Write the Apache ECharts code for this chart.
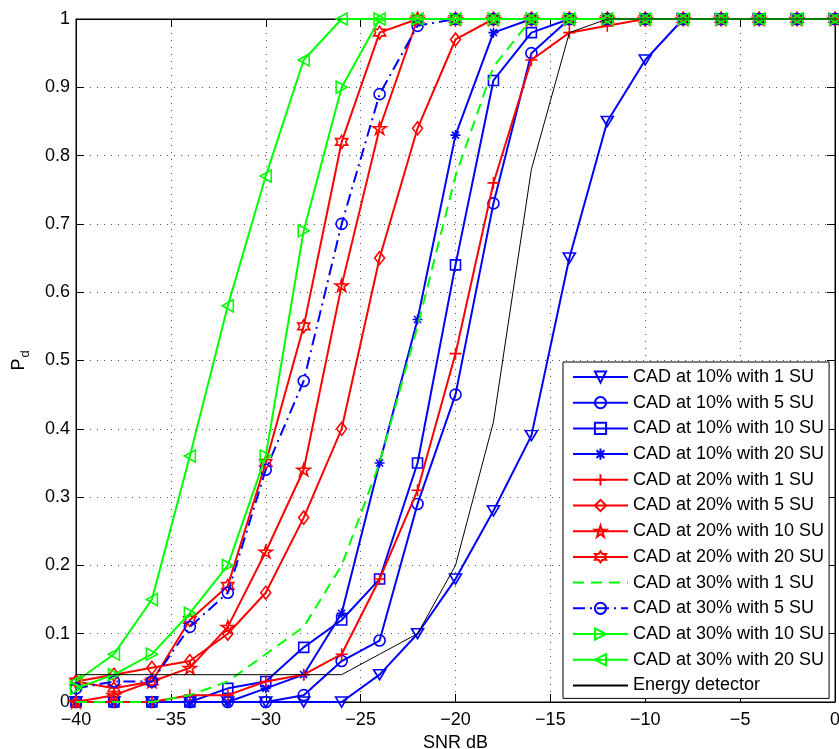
<!DOCTYPE html>
<html>
<head>
<meta charset="utf-8">
<script src="https://cdn.jsdelivr.net/npm/echarts@6/dist/echarts.min.js"></script>
<style>html,body{margin:0;padding:0;background:#fff;}#c{width:839px;height:749px;}</style>
</head>
<body>
<div id="c"></div>
<script>
const snr = [-40,-38,-36,-34,-32,-30,-28,-26,-24,-22,-20,-18,-16,-14,-12,-10,-8,-6,-4,-2,0];

const cad10_1  = [0,0,0,0,0,0,0,0,0.04,0.10,0.18,0.28,0.39,0.65,0.85,0.94,1,1,1,1,1];
const cad10_5  = [0,0,0,0,0,0,0.01,0.06,0.09,0.29,0.45,0.73,0.95,1,1,1,1,1,1,1,1];
const cad10_10 = [0,0,0,0,0.02,0.03,0.08,0.12,0.18,0.35,0.64,0.91,0.98,1,1,1,1,1,1,1,1];
const cad10_20 = [0,0,0,0,0,0.02,0.04,0.13,0.35,0.56,0.83,0.98,1,1,1,1,1,1,1,1,1];
const cad20_1  = [0,0,0,0.01,0.01,0.03,0.04,0.07,0.18,0.31,0.51,0.76,0.94,0.98,0.99,1,1,1,1,1,1];
const cad20_5  = [0.03,0.04,0.05,0.06,0.10,0.16,0.27,0.40,0.65,0.84,0.97,1,1,1,1,1,1,1,1,1,1];
const cad20_10 = [0,0.01,0.03,0.05,0.11,0.22,0.34,0.61,0.84,1,1,1,1,1,1,1,1,1,1,1,1];
const cad20_20 = [0.03,0.02,0.03,0.12,0.17,0.35,0.55,0.82,0.98,1,1,1,1,1,1,1,1,1,1,1,1];
const cad30_1  = [0,0,0,0.01,0.03,0.07,0.11,0.20,0.35,0.55,0.77,0.93,1,1,1,1,1,1,1,1,1];
const cad30_5  = [0.02,0.03,0.03,0.11,0.16,0.34,0.47,0.70,0.89,0.99,1,1,1,1,1,1,1,1,1,1,1];
const cad30_10 = [0.02,0.04,0.07,0.13,0.20,0.36,0.69,0.90,1,1,1,1,1,1,1,1,1,1,1,1,1];
const cad30_20 = [0.03,0.07,0.15,0.36,0.58,0.77,0.94,1,1,1,1,1,1,1,1,1,1,1,1,1,1];
const energy   = [0.04,0.04,0.04,0.04,0.04,0.04,0.04,0.04,0.07,0.10,0.20,0.41,0.78,0.98,1,1,1,1,1,1,1];

const seriesNames = [
  'CAD at 10% with 1 SU','CAD at 10% with 5 SU','CAD at 10% with 10 SU','CAD at 10% with 20 SU',
  'CAD at 20% with 1 SU','CAD at 20% with 5 SU','CAD at 20% with 10 SU','CAD at 20% with 20 SU',
  'CAD at 30% with 1 SU','CAD at 30% with 5 SU','CAD at 30% with 10 SU','CAD at 30% with 20 SU',
  'Energy detector'
];
const seriesData = [cad10_1,cad10_5,cad10_10,cad10_20,cad20_1,cad20_5,cad20_10,cad20_20,cad30_1,cad30_5,cad30_10,cad30_20,energy];

const xTicks = {min:-40, max:0, interval:5};
const yTicks = {min:0, max:1, interval:0.1};

const BLUE='#0000ff', RED='#ff0000', GREEN='#00ff00', BLACK='#000000';
const SYM = {
  down: 'path://M0,0L10,0L5,9Z',
  right: 'path://M0,0L9,5L0,10Z',
  left: 'path://M9,0L0,5L9,10Z',
  plus: 'path://M5,0L5,10M0,5L10,5',
  aster: 'path://M5,0L5,10M0,5L10,5M1.5,1.5L8.5,8.5M8.5,1.5L1.5,8.5',
  penta: 'path://M50,0L61.2,34.5L97.6,34.5L68.2,55.9L79.4,90.5L50,69.1L20.6,90.5L31.8,55.9L2.4,34.5L38.8,34.5Z',
  hexa: 'path://M50,0L64.43,25L93.3,25L78.87,50L93.3,75L64.43,75L50,100L35.57,75L6.7,75L21.13,50L6.7,25L35.57,25Z'
};
const styles = [
  {c:BLUE, s:SYM.down, z:[12,10]},
  {c:BLUE, s:'circle', z:11},
  {c:BLUE, s:'rect', z:10},
  {c:BLUE, s:SYM.aster, z:10},
  {c:RED, s:SYM.plus, z:12},
  {c:RED, s:'diamond', z:[10,13]},
  {c:RED, s:SYM.penta, z:[13,12]},
  {c:RED, s:SYM.hexa, z:[12,13]},
  {c:GREEN, s:'none', z:0, dash:[11,7]},
  {c:BLUE, s:'circle', z:11, dash:[12,5,2,5]},
  {c:GREEN, s:SYM.right, z:[11,12]},
  {c:GREEN, s:SYM.left, z:[11,12]},
  {c:BLACK, s:'none', z:0, w:1}
];

const series = seriesNames.map((name,i)=>{
  const st = styles[i];
  return {
    name: name,
    type: 'line',
    xAxisIndex: 0, yAxisIndex: 0,
    data: snr.map((x,k)=>[x, seriesData[i][k]]),
    symbol: st.s,
    symbolSize: st.z,
    showSymbol: st.s !== 'none',
    clip: false,
    animation: false,
    z: 2 + i,
    lineStyle: {color: st.c, width: st.w || 2, type: st.dash || 'solid'},
    itemStyle: {color: 'rgba(0,0,0,0)', borderColor: st.c, borderWidth: 1.6},
    emphasis: {disabled: true}
  };
});

const legendData = seriesNames.map((name,i)=> styles[i].s === 'none'
  ? {name: name, itemStyle: {color:'rgba(0,0,0,0)', borderColor:'rgba(0,0,0,0)', borderWidth:0, opacity:0}}
  : {name: name});

const gridLine = {show:true, lineStyle:{color:'#555', width:1, type:[1,6]}};
const fnt = 'Liberation Sans, Arial, sans-serif';

const option = {
  backgroundColor: '#fff',
  animation: false,
  grid: {left:76, right:4, top:19, bottom:47, containLabel:false, outerBoundsMode:'none',
         show:true, borderColor:'#000', borderWidth:1, backgroundColor:'#fff'},
  legend: {
    orient: 'vertical', left: 563, top: 362,
    backgroundColor: '#fff', borderColor: '#000', borderWidth: 1,
    padding: [5,5,3,9],
    itemWidth: 55, itemHeight: 14, itemGap: 5.7,
    textStyle: {fontFamily: fnt, fontSize: 18, color: '#000', lineHeight: 20},
    data: legendData,
    selectedMode: false
  },
  xAxis: [{
    type:'value', min:xTicks.min, max:xTicks.max, interval:xTicks.interval,
    position:'bottom',
    name:'SNR dB', nameLocation:'middle', nameGap:29,
    nameTextStyle:{fontFamily:fnt, fontSize:18, color:'#000'},
    axisLine:{show:true, onZero:false, lineStyle:{color:'#000', width:1}},
    axisTick:{show:true, inside:true, length:8, lineStyle:{color:'#000'}},
    axisLabel:{fontFamily:fnt, fontSize:18, color:'#000', margin:9,
      formatter: v => String(v).replace('-', '\u2212')},
    splitLine: gridLine
  },{
    type:'value', min:xTicks.min, max:xTicks.max, interval:xTicks.interval,
    position:'top',
    axisLine:{show:true, onZero:false, lineStyle:{color:'#000', width:1}},
    axisTick:{show:true, inside:true, length:8, lineStyle:{color:'#000'}},
    axisLabel:{show:false}, splitLine:{show:false}
  }],
  yAxis: [{
    type:'value', min:yTicks.min, max:yTicks.max, interval:yTicks.interval,
    position:'left',
    name:'{p|P}{d|d}', nameLocation:'middle', nameGap:44, nameRotate:90,
    nameTextStyle:{fontFamily:fnt, color:'#000',
      rich:{p:{fontFamily:fnt, fontSize:18, color:'#000'}, d:{fontFamily:fnt, fontSize:13, color:'#000', padding:[12,0,0,1]}}},
    axisLine:{show:true, onZero:false, lineStyle:{color:'#000', width:1}},
    axisTick:{show:true, inside:true, length:8, lineStyle:{color:'#000'}},
    axisLabel:{fontFamily:fnt, fontSize:18, color:'#000', margin:6,
      formatter: v => String(Math.round(v*10)/10)},
    splitLine: gridLine
  },{
    type:'value', min:yTicks.min, max:yTicks.max, interval:yTicks.interval,
    position:'right',
    axisLine:{show:true, onZero:false, lineStyle:{color:'#000', width:1}},
    axisTick:{show:true, inside:true, length:8, lineStyle:{color:'#000'}},
    axisLabel:{show:false}, splitLine:{show:false}
  }],
  series: series
};

const chart = echarts.init(document.getElementById('c'), null, {renderer:'canvas'});
chart.setOption(option);
</script>
</body>
</html>
